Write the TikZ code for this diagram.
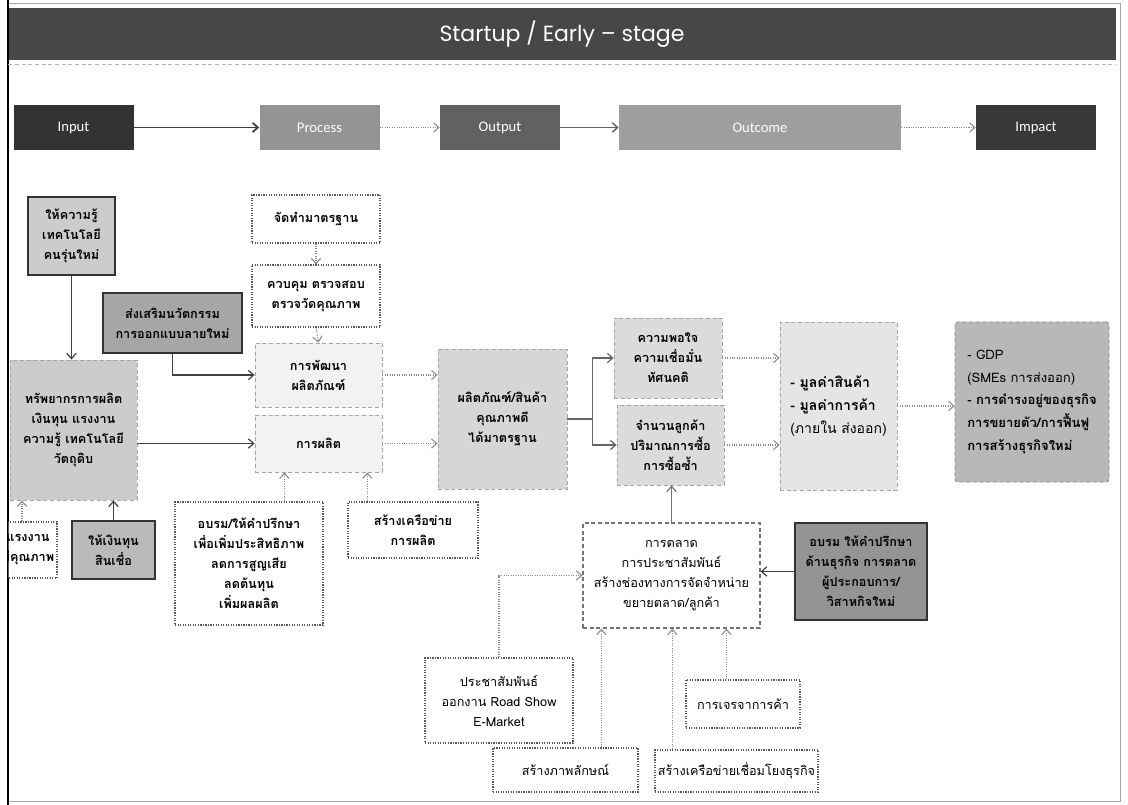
\documentclass[tikz,border=0pt]{standalone}
\usepackage{fontspec}
\setmainfont{Liberation Sans}
\newfontfamily\thai[Script=Thai]{Loma}
\newfontfamily\headfont{Poppins}
\newfontfamily\stagefont{Carlito}
\usetikzlibrary{arrows.meta,calc}

\tikzset{
  sz/.style 2 args={minimum width=#1*0.75pt, minimum height=#2*0.75pt},
  base/.style={align=center, inner sep=2pt, font=\thai\fontsize{9.5}{15}\selectfont},
  tb/.style={font=\thai\bfseries\fontsize{9.5}{15}\selectfont},
  solidbox/.style={base, tb, draw=black!80, line width=1.5pt, fill=#1},
  greybox/.style={base, tb, draw=black!35, densely dashed, line width=0.6pt, fill=#1},
  dotbox/.style={base, draw=black!65, densely dotted, line width=0.9pt, fill=white},
  stagebox/.style={fill=#1, text=white, sz={120}{45},
    font=\stagefont\fontsize{11}{13}\selectfont},
  flow/.style={-{Straight Barb[length=4pt,width=7pt]}, line width=0.9pt, black!75},
  flowline/.style={line width=0.9pt, black!75},
  dflow/.style={-{Straight Barb[length=4pt,width=7pt]}, line width=0.8pt,
    black!45, densely dotted},
}

\begin{document}
\begin{tikzpicture}[x=0.75pt,y=-0.75pt]
\useasboundingbox (0,0) rectangle (1128,805);

% page frame
\draw[black!35, line width=0.6pt] (8,3) rectangle (1120,801);
\draw[black, line width=1.2pt] (8,0) -- (8,805);

% title band
\node[fill=black!72, text=white, sz={1107}{52},
  font=\headfont\fontsize{16.5}{18}\selectfont] (head) at (562,34) {Startup / Early – stage};
\draw[black!30, densely dashed, line width=0.4pt] (head.south west) ++(0,4) -- ($(head.south east)+(0,4)$);

% stage row
\node[stagebox=black!80] (sinput) at (73.5,127.5) {Input};
\node[stagebox=black!42] (sprocess) at (319.5,127.5) {Process};
\node[stagebox=black!62] (soutput) at (500,127.5) {Output};
\node[stagebox=black!38, sz={282}{45}] (soutcome) at (760,127.5) {Outcome};
\node[stagebox=black!78] (simpact) at (1036,127.5) {Impact};

\draw[flow, line width=1.3pt] (sinput) -- (sprocess);
\draw[dflow] (sprocess) -- (soutput);
\draw[flow, black!60, line width=1.1pt] (soutput) -- (soutcome);
\draw[dflow] (soutcome) -- (simpact);

% inputs
\node[solidbox=black!20, sz={87}{78}] (know) at (71.5,236) {ให้ความรู้\\เทคโนโลยี\\คนรุ่นใหม่};
\node[solidbox=black!35, sz={139}{60}] (innov) at (172.5,323) {ส่งเสริมนวัตกรรม\\การออกแบบลายใหม่};
\node[greybox=black!20, sz={127}{140}] (res) at (73.5,430) {ทรัพยากรการผลิต\\เงินทุน แรงงาน\\ความรู้ เทคโนโลยี\\วัตถุดิบ};
\node[solidbox=black!27, sz={83}{58}] (fund) at (113.5,550) {ให้เงินทุน\\สินเชื่อ};
\begin{scope}
  \clip (8.6,500) rectangle (100,620);
  \node[dotbox, tb, sz={58}{56}] (lab) at (28,550) {แรงงาน\\มีคุณภาพ};
\end{scope}

% process
\node[dotbox, tb, sz={128}{48}] (std) at (316,219) {จัดทำมาตรฐาน};
\node[dotbox, tb, sz={128}{62}] (qc) at (316,296) {ควบคุม ตรวจสอบ\\ตรวจวัดคุณภาพ};
\node[greybox=black!5, sz={127}{64}] (dev) at (318.5,375) {การพัฒนา\\ผลิตภัณฑ์};
\node[greybox=black!5, sz={127}{57}] (prod) at (318.5,443.5) {การผลิต};
\node[dotbox, tb, sz={148}{123}] (train) at (249,563.5) {อบรม/ให้คำปรึกษา\\เพื่อเพิ่มประสิทธิภาพ\\ลดการสูญเสีย\\ลดต้นทุน\\เพิ่มผลผลิต};
\node[dotbox, tb, sz={130}{56}] (net) at (413,530) {สร้างเครือข่าย\\การผลิต};

% output and outcome
\node[greybox=black!16, sz={129}{140}] (out) at (502.5,419) {ผลิตภัณฑ์/สินค้า\\คุณภาพดี\\ได้มาตรฐาน};
\node[greybox=black!14, sz={108}{80}] (sat) at (668,358) {ความพอใจ\\ความเชื่อมั่น\\ทัศนคติ};
\node[greybox=black!14, sz={107}{80}] (cust) at (670.5,445) {จำนวนลูกค้า\\ปริมาณการซื้อ\\การซื้อซ้ำ};
\node[greybox=black!10, sz={117}{168}, align=left, font=\thai\fontsize{10.5}{17}\selectfont] (val) at (838.5,406)
  {{\bfseries - มูลค่าสินค้า}\\{\bfseries - มูลค่าการค้า}\\(ภายใน ส่งออก)};
\node[greybox=black!28, draw=black!45, rounded corners=2pt, sz={154}{160}, align=left,
  inner xsep=4pt, font=\thai\fontsize{9.8}{17}\selectfont] (imp) at (1032,402)
  {- GDP\\(SMEs การส่งออก)\\{\bfseries - การดำรงอยู่ของธุรกิจ}\\{\bfseries การขยายตัว/การฟื้นฟู}\\{\bfseries การสร้างธุรกิจใหม่}};

% marketing
\node[dotbox, draw=black!55, densely dashed, sz={177}{105}] (mkt) at (671.5,575.5)
  {การตลาด\\การประชาสัมพันธ์\\สร้างช่องทางการจัดจำหน่าย\\ขยายตลาด/ลูกค้า};
\node[solidbox=black!42, sz={132}{97}] (biz) at (861,571.5) {อบรม ให้คำปรึกษา\\ด้านธุรกิจ การตลาด\\ผู้ประกอบการ/\\วิสาหกิจใหม่};
\node[dotbox, sz={148}{85}] (pr) at (499,700.5) {ประชาสัมพันธ์\\ออกงาน Road Show\\E-Market};
\node[dotbox, sz={145}{44}] (brand) at (565.5,770) {สร้างภาพลักษณ์};
\node[dotbox, sz={163}{42}] (link) at (736.5,771) {สร้างเครือข่ายเชื่อมโยงธุรกิจ};
\node[dotbox, sz={114}{48}] (nego) at (743,704) {การเจรจาการค้า};

% connectors: inputs
\draw[flow] (know.south) -- (know.south |- res.north);
\draw[flow] (innov.south) |- (dev.west);
\draw[flow] (res.east |- prod) -- (prod.west);
\draw[flow] (fund.north) -- (fund.north |- res.south);
\coordinate (labtop) at ($(lab.north)+(-6,0)$);
\draw[dflow] (labtop) -- (labtop |- res.south);

% connectors: process
\draw[dflow] (std.south) -- (qc.north);
\draw[dflow] (qc.south) -- (dev.north);
\coordinate (traintop) at ($(train.north west)+(110,0)$);
\draw[dflow] (traintop) -- (traintop |- prod.south);
\coordinate (nettop) at ($(net.north west)+(20,0)$);
\draw[dflow] (nettop) -- (nettop |- prod.south);
\draw[dflow] (dev.east) -- (dev.east -| out.west);
\draw[dflow] (prod.east) -- (prod.east -| out.west);

% connectors: output and outcome
\coordinate (split) at ($(out.east)+(25,0)$);
\draw[flowline, black!60] (out.east) -- (split);
\draw[flow, black!60] (split) |- (sat.west);
\draw[flow, black!60] (split) |- (cust.west);
\draw[dflow] (sat.east) -- (sat.east -| val.west);
\draw[dflow] (cust.east) -- (cust.east -| val.west);
\draw[dflow] (val.east) -- (val.east -| imp.west);

% connectors: marketing
\draw[flow, black!55] (mkt.north) -- (mkt.north |- cust.south);
\draw[flow] (biz.west) -- (biz.west -| mkt.east);
\draw[dflow] (pr.north) |- (mkt.west);
\coordinate (brandtop) at ($(brand.north west)+(109,0)$);
\draw[dflow] (brandtop) -- (brandtop |- mkt.south);
\coordinate (linktop) at ($(link.north west)+(18,0)$);
\draw[dflow] (linktop) -- (linktop |- mkt.south);
\coordinate (negotop) at ($(nego.north west)+(41,0)$);
\draw[dflow] (negotop) -- (negotop |- mkt.south);
\end{tikzpicture}
\end{document}
